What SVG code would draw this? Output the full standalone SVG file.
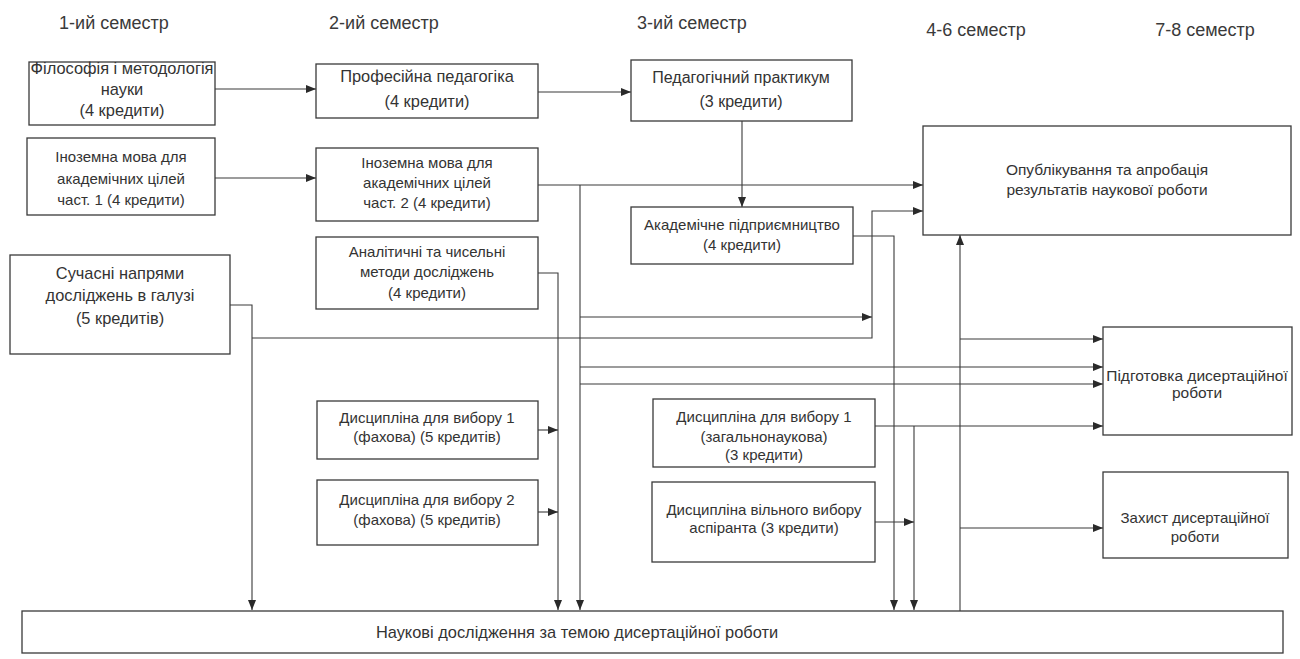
<svg xmlns="http://www.w3.org/2000/svg" width="1300" height="659" viewBox="0 0 1300 659">
<defs>
<marker id="ah" markerUnits="userSpaceOnUse" markerWidth="10" markerHeight="8" refX="10" refY="4" orient="auto"><path d="M0,0 L10,4 L0,8 z" fill="#2a2a2a"/></marker>
<style>
.box{fill:#fff;stroke:#3a3a3a;stroke-width:1.3}
.t{font-family:"Liberation Sans",Arial,sans-serif;font-size:15px;fill:#333;text-anchor:middle}
.l{font-size:16.4px}
.h{font-family:"Liberation Sans",Arial,sans-serif;font-size:18px;fill:#3a3a3a;text-anchor:middle}
.c{fill:none;stroke:#3a3a3a;stroke-width:1.1}
.a{marker-end:url(#ah)}
</style>
</defs>
<rect width="1300" height="659" fill="#fff"/>
<g id="headers">
<text class="h" x="114" y="29">1-ий семестр</text>
<text class="h" x="384" y="29">2-ий семестр</text>
<text class="h" x="692" y="29">3-ий семестр</text>
<text class="h" x="976" y="36">4-6 семестр</text>
<text class="h" x="1205" y="36">7-8 семестр</text>
</g>
<g id="connectors">
<path class="c a" d="M215,89 H316"/>
<path class="c a" d="M215,178 H316"/>
<path class="c a" d="M538,92 H631"/>
<path class="c a" d="M742,121 V207"/>
<path class="c a" d="M538,185 H923"/>
<path class="c a" d="M580,185 V610"/>
<path class="c a" d="M580,317 H872"/>
<path class="c a" d="M580,367 H1103"/>
<path class="c a" d="M580,384 H1103"/>
<path class="c a" d="M538,273 H558 V610"/>
<path class="c a" d="M538,430 H558"/>
<path class="c a" d="M538,512 H558"/>
<path class="c a" d="M230,305 H252 V610"/>
<path class="c a" d="M252,338 H872 V211 H923"/>
<path class="c a" d="M853,236 H894 V610"/>
<path class="c a" d="M875,426 H1103"/>
<path class="c a" d="M914,426 V610"/>
<path class="c a" d="M875,522 H914"/>
<path class="c a" d="M960,611 V235"/>
<path class="c a" d="M960,339 H1103"/>
<path class="c a" d="M960,528 H1103"/>
</g>
<g id="n-filosofiya">
<rect class="box" x="29" y="62" width="186" height="63"/>
<text class="t l" x="122" y="74">Філософія і методологія</text>
<text class="t l" x="122" y="95">науки</text>
<text class="t l" x="122" y="116">(4 кредити)</text>
</g>
<g id="n-inozemna1">
<rect class="box" x="27" y="138" width="188" height="77"/>
<text class="t" x="121" y="162">Іноземна мова для</text>
<text class="t" x="121" y="184">академічних цілей</text>
<text class="t" x="121" y="205">част. 1 (4 кредити)</text>
</g>
<g id="n-suchasni">
<rect class="box" x="10" y="255" width="220" height="99"/>
<text class="t l" x="120" y="279">Сучасні напрями</text>
<text class="t l" x="120" y="301">досліджень в галузі</text>
<text class="t l" x="120" y="324">(5 кредитів)</text>
</g>
<g id="n-profesiyna">
<rect class="box" x="316" y="64" width="222" height="54"/>
<text class="t l" x="427" y="82">Професійна педагогіка</text>
<text class="t l" x="427" y="107">(4 кредити)</text>
</g>
<g id="n-inozemna2">
<rect class="box" x="316" y="148" width="222" height="73"/>
<text class="t" x="427" y="168">Іноземна мова для</text>
<text class="t" x="427" y="188">академічних цілей</text>
<text class="t" x="427" y="208">част. 2 (4 кредити)</text>
</g>
<g id="n-analitychni">
<rect class="box" x="316" y="237" width="222" height="72"/>
<text class="t" x="427" y="257">Аналітичні та чисельні</text>
<text class="t" x="427" y="277">методи досліджень</text>
<text class="t" x="427" y="298">(4 кредити)</text>
</g>
<g id="n-vybir1-fakh">
<rect class="box" x="317" y="401" width="221" height="58"/>
<text class="t" x="427" y="423">Дисципліна для вибору 1</text>
<text class="t" x="427" y="442">(фахова) (5 кредитів)</text>
</g>
<g id="n-vybir2-fakh">
<rect class="box" x="317" y="480" width="221" height="65"/>
<text class="t" x="427" y="505">Дисципліна для вибору 2</text>
<text class="t" x="427" y="525">(фахова) (5 кредитів)</text>
</g>
<g id="n-praktykum">
<rect class="box" x="631" y="60" width="221" height="61"/>
<text class="t" style="font-size:16px" x="741" y="83">Педагогічний практикум</text>
<text class="t" style="font-size:16px" x="741" y="107">(3 кредити)</text>
</g>
<g id="n-akademichne">
<rect class="box" x="631" y="207" width="222" height="57"/>
<text class="t" x="742" y="230">Академічне підприємництво</text>
<text class="t" x="742" y="250">(4 кредити)</text>
</g>
<g id="n-vybir1-zah">
<rect class="box" x="653" y="399" width="222" height="68"/>
<text class="t" x="764" y="422">Дисципліна для вибору 1</text>
<text class="t" x="764" y="442">(загальнонаукова)</text>
<text class="t" x="764" y="460">(3 кредити)</text>
</g>
<g id="n-vilnyi">
<rect class="box" x="652" y="482" width="223" height="80"/>
<text class="t" x="764" y="515">Дисципліна вільного вибору</text>
<text class="t" x="764" y="533">аспіранта (3 кредити)</text>
</g>
<g id="n-opublikuvannya">
<rect class="box" x="923" y="126" width="368" height="109"/>
<text class="t" style="font-size:15.5px" x="1107" y="175">Опублікування та апробація</text>
<text class="t" style="font-size:15.5px" x="1107" y="195">результатів наукової роботи</text>
</g>
<g id="n-pidgotovka">
<rect class="box" x="1103" y="327" width="189" height="108"/>
<text class="t" style="font-size:15.5px" x="1197" y="381">Підготовка дисертаційної</text>
<text class="t" style="font-size:15.5px" x="1197" y="398">роботи</text>
</g>
<g id="n-zakhyst">
<rect class="box" x="1103" y="472" width="185" height="86"/>
<text class="t" x="1195" y="523">Захист дисертаційної</text>
<text class="t" x="1195" y="542">роботи</text>
</g>
<g id="n-naukovi">
<rect class="box" x="22" y="611" width="1261" height="42"/>
<text class="t l" x="577" y="638">Наукові дослідження за темою дисертаційної роботи</text>
</g>
</svg>
